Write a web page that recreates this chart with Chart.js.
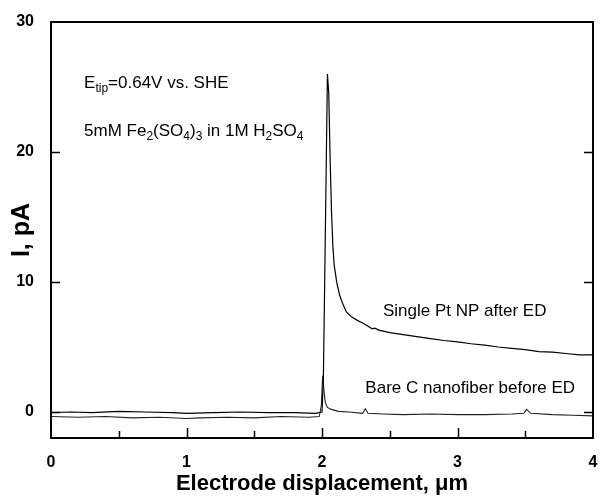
<!DOCTYPE html>
<html>
<head>
<meta charset="utf-8">
<script src="https://cdn.jsdelivr.net/npm/chart.js@4"></script>
<style>
html,body{margin:0;padding:0;background:#fff;}
#wrap{width:600px;height:497px;position:relative;}
</style>
</head>
<body>
<div id="wrap"><canvas id="c" width="600" height="497"></canvas></div>
<script>
// ---- data ----
const xTicks = [0, 0.5, 1, 1.5, 2, 2.5, 3, 3.5, 4];
const yTicks = [0, 10, 20, 30];

const ptX = [0, 0.15, 0.3, 0.5, 0.7, 0.9, 1.0, 1.2, 1.4, 1.6, 1.8, 1.95, 2.0, 2.01, 2.025, 2.04, 2.05, 2.06, 2.07, 2.08, 2.09, 2.11, 2.13, 2.15, 2.18, 2.22, 2.26, 2.3, 2.34, 2.37, 2.39, 2.42, 2.5, 2.6, 2.7, 2.8, 2.9, 3.0, 3.1, 3.2, 3.3, 3.4, 3.5, 3.6, 3.7, 3.8, 3.9, 4.0];
const ptY = [-0.05, 0.0, -0.05, 0.05, 0.0, -0.05, -0.1, -0.05, 0.0, -0.05, -0.05, -0.1, 0.0, 2.5, 14, 26, 24.5, 19.5, 15.5, 12.8, 11.3, 9.9, 9.0, 8.4, 7.7, 7.3, 7.05, 6.85, 6.6, 6.4, 6.45, 6.3, 6.1, 5.95, 5.8, 5.65, 5.5, 5.4, 5.25, 5.15, 5.0, 4.9, 4.8, 4.65, 4.6, 4.5, 4.4, 4.4];

const bareX = [0, 0.2, 0.4, 0.6, 0.8, 1.0, 1.1, 1.3, 1.5, 1.7, 1.9, 1.98, 1.995, 2.005, 2.015, 2.025, 2.04, 2.07, 2.12, 2.2, 2.3, 2.32, 2.34, 2.45, 2.6, 2.8, 3.0, 3.2, 3.4, 3.49, 3.51, 3.54, 3.7, 3.85, 4.0];
const bareY = [-0.35, -0.4, -0.35, -0.45, -0.4, -0.5, -0.45, -0.4, -0.45, -0.35, -0.4, -0.35, 0.5, 2.8, 1.6, 0.7, 0.35, 0.2, 0.05, 0.0, -0.1, 0.25, -0.1, -0.15, -0.2, -0.15, -0.2, -0.2, -0.15, -0.1, 0.2, -0.1, -0.2, -0.25, -0.3];

const xMin = 0, xMax = 4, yMin = -2, yMax = 30;

const toPts = (xs, ys) => xs.map((x, i) => ({x: x, y: ys[i]}));

const FONT = '"Liberation Sans", Arial, sans-serif';

// annotation texts (segments: [text, isSubscript])
const notes = [
  {x: 0.244, y: 24.9, segs: [['E', 0], ['tip', 1], ['=0.64V vs. SHE', 0]]},
  {x: 0.244, y: 21.2, segs: [['5mM Fe', 0], ['2', 1], ['(SO', 0], ['4', 1], [')', 0], ['3', 1], [' in 1M H', 0], ['2', 1], ['SO', 0], ['4', 1]]},
  {x: 2.45, y: 7.35, segs: [['Single Pt NP after ED', 0]]},
  {x: 2.32, y: 1.45, segs: [['Bare C nanofiber before ED', 0]]}
];

const framePlugin = {
  id: 'frame',
  afterDatasetsDraw(chart) {
    const ctx = chart.ctx, a = chart.chartArea;
    const xs = chart.scales.x, ys = chart.scales.y;
    ctx.save();
    ctx.strokeStyle = '#000';
    ctx.lineWidth = 2;
    ctx.strokeRect(a.left, a.top, a.right - a.left, a.bottom - a.top);
    ctx.lineWidth = 1.5;
    ctx.beginPath();
    xTicks.forEach(v => {
      if (v === xMin || v === xMax) return;
      const px = Math.round(xs.getPixelForValue(v)) + 0.5;
      const len = Number.isInteger(v) ? 10 : 7;
      ctx.moveTo(px, a.bottom);
      ctx.lineTo(px, a.bottom - len);
    });
    yTicks.forEach(v => {
      if (v === yMax) return;
      const py = Math.round(ys.getPixelForValue(v)) + 0.5;
      ctx.moveTo(a.left, py); ctx.lineTo(a.left + 9, py);
      ctx.moveTo(a.right, py); ctx.lineTo(a.right - 9, py);
    });
    ctx.stroke();

    // annotations
    ctx.fillStyle = '#000';
    ctx.textBaseline = 'alphabetic';
    ctx.textAlign = 'left';
    notes.forEach(n => {
      let px = xs.getPixelForValue(n.x);
      const py = ys.getPixelForValue(n.y);
      n.segs.forEach(([t, sub]) => {
        ctx.font = (sub ? '12px ' : '17px ') + FONT;
        ctx.fillText(t, px, py + (sub ? 4 : 0));
        px += ctx.measureText(t).width;
      });
    });
    ctx.restore();
  }
};

new Chart(document.getElementById('c'), {
  type: 'line',
  data: {
    datasets: [
      {label: 'Single Pt NP after ED', data: toPts(ptX, ptY), borderColor: '#000', borderWidth: 1.2, pointRadius: 0, tension: 0, fill: false},
      {label: 'Bare C nanofiber before ED', data: toPts(bareX, bareY), borderColor: '#222', borderWidth: 1.1, pointRadius: 0, tension: 0, fill: false}
    ]
  },
  options: {
    responsive: false,
    animation: false,
    devicePixelRatio: 1,
    layout: {padding: {top: 22, right: 7, left: 0, bottom: 0}},
    plugins: {legend: {display: false}, tooltip: {enabled: false}},
    scales: {
      x: {
        type: 'linear', min: xMin, max: xMax,
        afterBuildTicks: s => { s.ticks = xTicks.map(v => ({value: v})); },
        afterFit: s => { s.height = 59; s.paddingLeft = 0; s.paddingRight = 0; },
        grid: {display: false},
        border: {display: false},
        ticks: {
          autoSkip: false, maxRotation: 0, padding: 7, color: '#000',
          font: {family: FONT, size: 16, weight: 'bold'},
          callback: v => Number.isInteger(v) ? String(v) : ''
        },
        title: {display: true, text: 'Electrode displacement, \u03bcm', color: '#000',
          font: {family: FONT, size: 22, weight: 'bold'}, padding: {top: 0, bottom: 0}}
      },
      y: {
        type: 'linear', min: yMin, max: yMax,
        afterBuildTicks: s => { s.ticks = yTicks.map(v => ({value: v})); },
        afterFit: s => { s.width = 51; s.paddingTop = 0; s.paddingBottom = 0; },
        grid: {display: false},
        border: {display: false},
        ticks: {padding: 9, color: '#000', font: {family: FONT, size: 16, weight: 'bold'}},
        title: {display: true, text: 'I, pA', color: '#000',
          font: {family: FONT, size: 25, weight: 'bold'}, padding: {top: 7, bottom: 0}}
      }
    }
  },
  plugins: [framePlugin]
});
</script>
</body>
</html>
